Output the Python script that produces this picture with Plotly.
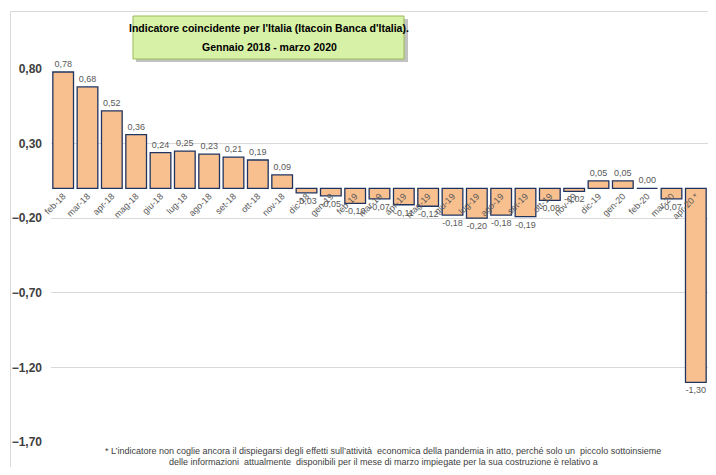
import plotly.graph_objects as go

categories = ["feb-18", "mar-18", "apr-18", "mag-18", "giu-18", "lug-18", "ago-18", "set-18",
              "ott-18", "nov-18", "dic-18", "gen-19", "feb-19", "mar-19", "apr-19", "mag-19",
              "giu-19", "lug-19", "ago-19", "set-19", "ott-19", "nov-19", "dic-19", "gen-20",
              "feb-20", "mar-20", "apr-20 *"]
values = [0.78, 0.68, 0.52, 0.36, 0.24, 0.25, 0.23, 0.21, 0.19, 0.09, -0.03, -0.05,
          -0.10, -0.07, -0.11, -0.12, -0.18, -0.20, -0.18, -0.19, -0.08, -0.02, 0.05, 0.05,
          0.00, -0.07, -1.30]
y_ticks = [0.80, 0.30, -0.20, -0.70, -1.20, -1.70]

title_lines = ["Indicatore coincidente per l'Italia (Itacoin Banca d'Italia).",
               "Gennaio 2018 - marzo 2020"]
footnote_lines = ["* L\u2019indicatore non coglie ancora il dispiegarsi degli effetti sull\u2019attività  economica della pandemia in atto, perché solo un  piccolo sottoinsieme",
                  "delle informazioni  attualmente  disponibili per il mese di marzo impiegate per la sua costruzione è relativo a"]

FONT = "Liberation Sans Narrow, Liberation Sans, Arial, sans-serif"
OFF = 8  # default page body margin
W, H = 716 - 2 * OFF, 475 - 2 * OFF
PLOT_LEFT, PLOT_RIGHT, PLOT_TOP, PLOT_BOTTOM = 51, 708, 69, 442  # page pixels
L, R = PLOT_LEFT - OFF, (OFF + W) - PLOT_RIGHT
T, B = PLOT_TOP - OFF, (OFF + H) - PLOT_BOTTOM
ymin, ymax = -1.70, 0.80
zero_pos = (0 - ymin) / (ymax - ymin)

def px_x(x):
    return (x - PLOT_LEFT) / (PLOT_RIGHT - PLOT_LEFT)

def px_y(y):
    return (PLOT_BOTTOM - y) / (PLOT_BOTTOM - PLOT_TOP)

fig = go.Figure()
fig.add_trace(go.Bar(
    x=categories, y=values,
    marker=dict(color="#F9C08F", line=dict(color="#1F3461", width=1.3)),
    text=values, texttemplate="%{y:.2f}", textposition="outside",
    textfont=dict(family=FONT, size=9, color="#595959"),
    cliponaxis=False, showlegend=False,
))

fig.update_layout(
    width=W, height=H,
    margin=dict(l=L, r=R, t=T, b=B, autoexpand=False),
    paper_bgcolor="white", plot_bgcolor="white",
    separators=",.",
    bargap=0.15,
    font=dict(family=FONT),
    xaxis=dict(
        anchor="free", position=zero_pos, automargin=False,
        tickangle=-45, showgrid=False, showline=False, ticks="",
        tickfont=dict(family=FONT, size=9, color="#595959"),
    ),
    yaxis=dict(
        range=[ymin, ymax], tickvals=y_ticks, tickformat=".2f", automargin=False,
        showgrid=True, gridcolor="#D9D9D9", gridwidth=1, zeroline=False,
        tickfont=dict(family=FONT, size=12, color="#404040", weight="bold"),
        ticklabelstandoff=8,
    ),
)

# outer chart border
fig.add_shape(type="line", xref="paper", yref="paper",
              x0=px_x(10.5), x1=px_x(720), y0=px_y(11.5), y1=px_y(11.5),
              line=dict(color="#D9D9D9", width=1))
fig.add_shape(type="line", xref="paper", yref="paper",
              x0=px_x(10.5), x1=px_x(10.5), y0=px_y(11.5), y1=px_y(480),
              line=dict(color="#D9D9D9", width=1))

# title box (shadow + box)
fig.add_shape(type="rect", xref="paper", yref="paper",
              x0=px_x(136), x1=px_x(408), y0=px_y(19), y1=px_y(62),
              line=dict(width=0), fillcolor="rgba(120,120,120,0.45)", layer="above")
fig.add_shape(type="rect", xref="paper", yref="paper",
              x0=px_x(133), x1=px_x(404), y0=px_y(16), y1=px_y(59),
              line=dict(color="#9BBB59", width=1), fillcolor="#D7F2A6", layer="above")
fig.add_annotation(xref="paper", yref="paper", x=px_x(269), y=px_y(28),
                   xanchor="center", yanchor="middle",
                   text="<b>" + title_lines[0] + "</b>", showarrow=False,
                   font=dict(family=FONT, size=10.5, color="#000000"))
fig.add_annotation(xref="paper", yref="paper", x=px_x(269), y=px_y(47),
                   xanchor="center", yanchor="middle",
                   text="<b>" + title_lines[1] + "</b>", showarrow=False,
                   font=dict(family=FONT, size=10.5, color="#000000"))

# footnote
fig.add_annotation(xref="paper", yref="paper", x=px_x(383), y=px_y(451),
                   xanchor="center", yanchor="middle",
                   text=footnote_lines[0], showarrow=False,
                   font=dict(family=FONT, size=9, color="#404040"))
fig.add_annotation(xref="paper", yref="paper", x=px_x(383), y=px_y(462),
                   xanchor="center", yanchor="middle",
                   text=footnote_lines[1], showarrow=False,
                   font=dict(family=FONT, size=9, color="#404040"))

fig.write_html("out.html")
